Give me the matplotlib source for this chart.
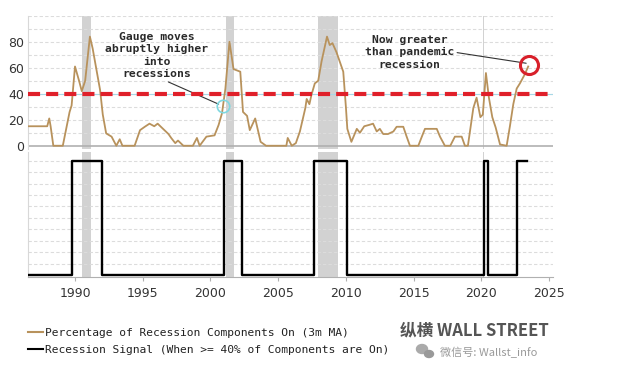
import numpy as np
import matplotlib.pyplot as plt
from matplotlib.patches import Ellipse

# gauge: percentage of recession components on (3m MA)
gauge_years = [1986.6, 1987.95, 1988.1, 1988.2, 1988.4, 1989.1, 1989.6, 1989.75, 1990.0, 1990.3,
               1990.5, 1990.75, 1991.1, 1991.3, 1991.85, 1992.05, 1992.3, 1992.7, 1993.05, 1993.3,
               1993.5, 1994.4, 1994.8, 1995.15, 1995.5, 1995.85, 1996.1, 1996.5, 1996.9, 1997.1,
               1997.4, 1997.6, 1998.0, 1998.7, 1999.0, 1999.2, 1999.7, 2000.3, 2000.6, 2000.85,
               2001.1, 2001.4, 2001.7, 2002.2, 2002.4, 2002.7, 2002.9, 2003.3, 2003.5, 2003.7,
               2004.1, 2005.6, 2005.7, 2006.0, 2006.3, 2006.6, 2007.0, 2007.1, 2007.3, 2007.45,
               2007.7, 2007.95, 2008.2, 2008.6, 2008.8, 2009.0, 2009.3, 2009.8, 2010.0, 2010.1,
               2010.4, 2010.8, 2011.03, 2011.35, 2011.7, 2012.0, 2012.27, 2012.5, 2012.75, 2013.1,
               2013.5, 2013.74, 2014.23, 2014.48, 2014.72, 2015.34, 2015.6, 2015.83, 2016.7, 2016.94,
               2017.3, 2017.7, 2018.04, 2018.54, 2018.78, 2019.0, 2019.4, 2019.64, 2019.92, 2020.1,
               2020.33, 2020.55, 2020.8, 2021.05, 2021.37, 2021.86, 2022.1, 2022.35, 2022.6, 2022.84,
               2023.2, 2023.45]
gauge_values = [15, 15, 21, 15, 0, 0, 26, 31, 61, 50,
                42, 50, 84, 75, 43, 24, 9.5, 7, 0, 5,
                0, 0, 12, 14.6, 17, 15, 17, 13, 9, 6,
                2, 4, 0, 0, 6, 0, 7, 8, 16, 25,
                44, 80, 59, 57, 26, 23, 12, 21, 12, 3,
                0, 0, 6, 0, 2, 11, 29, 36, 32, 39,
                48, 50, 65, 84, 77.5, 79, 72, 57, 29, 13,
                3, 13, 10, 15, 16, 17, 11, 13, 9, 9,
                11, 14.6, 14.6, 7, 0, 0, 7, 13, 13, 7,
                0, 0, 7, 7, 0, 0, 29, 37, 22, 24,
                56, 37, 22, 14, 1, 0, 15, 32, 44, 48,
                55, 61]

# recession signal: periods when >= 40% of components are on
signal_start = 1986.6
signal_on = [1989.76, 2001.0, 2007.64, 2020.18, 2022.64]
signal_off = [1991.97, 2002.3, 2010.05, 2020.5, 2023.38]

# NBER recessions (shaded)
rec_start = [1990.54, 2001.15, 2007.92, 2020.08]
rec_end = [1991.16, 2001.75, 2009.42, 2020.2]

threshold = 40
xticks = [1990, 1995, 2000, 2005, 2010, 2015, 2020, 2025]

tan = '#b8925c'
shade = '#d2d2d2'
grid_c = '#dcdcdc'

fig = plt.figure(figsize=(6.39, 3.83), dpi=100)
ax1 = fig.add_axes([0.0438, 0.611, 0.8216, 0.347])
ax2 = fig.add_axes([0.0438, 0.2768, 0.8216, 0.3272])

xlim = (1986.53, 2025.28)

for ax in (ax1, ax2):
    for s, e in zip(rec_start, rec_end):
        ax.axvspan(s, e, color=shade, lw=0, zorder=0)
    ax.set_xlim(*xlim)
    for sp in ['top', 'right']:
        ax.spines[sp].set_visible(False)
    ax.spines['left'].set_color('#d8d8d8')
    ax.spines['left'].set_linewidth(0.8)

# top panel
for v in range(10, 101, 10):
    ax1.axhline(v, color=grid_c, lw=0.8, ls=(0, (3, 2)), zorder=1)
ax1.axhline(0, color='#b0b0b0', lw=1.2, zorder=1)
ax1.axhline(threshold, color='#a8d8e6', lw=0.8, zorder=2)
ax1.plot(gauge_years, gauge_values, color=tan, lw=1.3, zorder=3)
ax1.axhline(threshold, color='#e0202a', lw=3.0, dashes=(2.9, 1.45), zorder=4)
ax1.set_ylim(-2.5, 99.8)
ax1.set_yticks([0, 20, 40, 60, 80])
ax1.tick_params(axis='y', length=0, labelsize=9, labelcolor='#333333', pad=3)
ax1.tick_params(axis='x', bottom=False, labelbottom=False)
ax1.spines['bottom'].set_visible(False)

# highlight circles
ax1.plot([2000.95], [30.5], marker='o', ms=9, mfc='none', mec='#7fd8e0', mew=1.2, zorder=5)
ax1.plot([gauge_years[-1] + 0.05], [gauge_values[-1] + 1], marker='o', ms=13, mfc='none',
         mec='#d8202a', mew=2.2, zorder=5)

ax1.annotate('Gauge moves\nabruptly higher\ninto\nrecessions', xy=(2000.6, 32), xytext=(1996.05, 69.4),
             ha='center', va='center', fontsize=8.2, family='DejaVu Sans Mono', fontweight='bold',
             color='#2a2a2a', linespacing=1.3,
             arrowprops=dict(arrowstyle='-', color='#333333', lw=0.8, shrinkA=0, shrinkB=0,
                             relpos=(0.55, 0.0)))
ax1.annotate('Now greater\nthan pandemic\nrecession', xy=(2023.3, 63.5), xytext=(2014.7, 72),
             ha='center', va='center', fontsize=8.2, family='DejaVu Sans Mono', fontweight='bold',
             color='#2a2a2a', linespacing=1.3,
             arrowprops=dict(arrowstyle='-', color='#333333', lw=0.8, shrinkA=0, shrinkB=0,
                             relpos=(1.0, 0.5)))

# bottom panel
sx = [signal_start]
sy = [0]
for on, off in zip(signal_on, signal_off):
    sx += [on, on, off, off]
    sy += [0, 1, 1, 0]
sx, sy = sx[:-1], sy[:-1]
for v in np.arange(0.1, 1.01, 0.1):
    ax2.axhline(v, color=grid_c, lw=0.8, ls=(0, (3, 2)), zorder=1)
ax2.plot(sx, sy, color='black', lw=1.7, zorder=3)
ax2.set_ylim(-0.0175, 1.0796)
ax2.set_yticks([])
ax2.spines['bottom'].set_color('#b0b0b0')
ax2.set_xticks(xticks)
ax2.tick_params(axis='x', length=3, color='#b0b0b0', labelsize=9, labelcolor='#333333', pad=4)

# legend
h1, = ax2.plot([], [], color=tan, lw=1.5)
h2, = ax2.plot([], [], color='black', lw=1.5)
fig.legend([h1, h2], ['Percentage of Recession Components On (3m MA)',
                      'Recession Signal (When >= 40% of Components are On)'],
           loc='upper left', bbox_to_anchor=(0.0438, 0.143), frameon=False,
           prop={'family': 'DejaVu Sans Mono', 'size': 8.1}, handlelength=1.3,
           handletextpad=0.2, borderpad=0, borderaxespad=0, labelspacing=0.6,
           labelcolor='#222222')

# watermark
fig.text(0.626, 0.138, '纵横 WALL STREET', family=['Noto Sans CJK SC', 'DejaVu Sans'],
         fontsize=12, fontweight='bold', color='#555555', ha='left', va='center')
fig.text(0.689, 0.081, '微信号: Wallst_info', family=['Noto Sans CJK SC', 'DejaVu Sans'],
         fontsize=8, color='#999999', ha='left', va='center')
fig.patches.append(Ellipse((422 / 639, 1 - 349 / 383), 11 / 639, 9 / 383, color='#aaaaaa',
                           transform=fig.transFigure, figure=fig))
fig.patches.append(Ellipse((429 / 639, 1 - 354 / 383), 9 / 639, 7 / 383, color='#999999',
                           transform=fig.transFigure, figure=fig))

plt.savefig('out.png', dpi=100)
